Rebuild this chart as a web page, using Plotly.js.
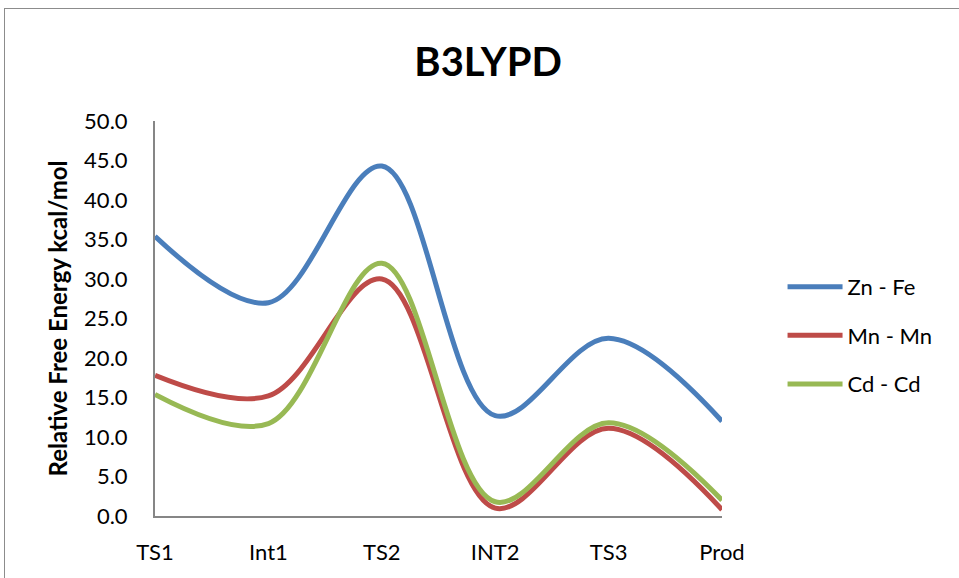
<!DOCTYPE html>
<html>
<head>
<meta charset="utf-8">
<script src="https://cdn.plot.ly/plotly-3.0.1.min.js"></script>
<style>
  html, body { margin: 0; padding: 0; background: #fff; }
  #chart { width: 959px; height: 578px; position: absolute; left: 0; top: 0; }
  #frame { position: absolute; left: 4px; top: 8px; width: 970px; height: 600px;
           border: 1.5px solid #8c8c8c; pointer-events: none; }
</style>
</head>
<body>
<div id="chart"></div>
<div id="frame"></div>
<script>
// Reaction path stations
const steps = ["TS1", "Int1", "TS2", "INT2", "TS3", "Prod"];

// Relative free energies (kcal/mol) for each metal pair
const znFe = [35.4, 27.0, 44.3, 12.7, 22.5, 12.0];
const mnMn = [17.8, 15.2, 30.0, 1.0, 11.1, 0.8];
const cdCd = [15.4, 11.7, 32.0, 1.8, 11.8, 2.0];

const FONT = "Lato, 'DejaVu Sans', sans-serif";

function series(name, y, color) {
  return {
    x: steps, y: y, name: name, type: "scatter", mode: "lines",
    legendgroup: name,
    line: { color: color, width: 5, shape: "spline", smoothing: 1 },
    hoverinfo: "skip"
  };
}

const data = [
  series("Zn - Fe", znFe, "#4a7ebb"),
  series("Mn - Mn", mnMn, "#be4b48"),
  series("Cd - Cd", cdCd, "#98b954")
];

const layout = {
  width: 959, height: 578,
  margin: { l: 155, r: 237, t: 121, b: 62 },
  paper_bgcolor: "#fff", plot_bgcolor: "#fff",
  font: { family: FONT, size: 22, color: "#000" },
  showlegend: true,
  title: {
    text: "<b>B3LYPD</b>",
    font: { family: FONT, size: 40, color: "#000" },
    x: 0.509, xanchor: "center", y: 0.893, yanchor: "middle"
  },
  xaxis: {
    type: "category", range: [0, 5],
    showgrid: false, zeroline: false,
    showline: true, linecolor: "#868686", linewidth: 2,
    ticks: "", ticklabelstandoff: 16,
    tickfont: { family: FONT, size: 22 }
  },
  yaxis: {
    range: [0, 50], dtick: 5, tick0: 0, tickformat: ".1f",
    showgrid: false, zeroline: false,
    showline: true, linecolor: "#868686", linewidth: 2,
    ticks: "", ticklabelstandoff: 21,
    tickfont: { family: FONT, size: 22 },
    title: { text: "<b>Relative Free Energy kcal/mol</b>", standoff: 10,
             font: { family: FONT, size: 24 } }
  },
  legend: {
    x: 0.816, xref: "container", y: 0.54, yref: "container",
    xanchor: "left", yanchor: "top",
    font: { family: FONT, size: 22 },
    itemwidth: 55, tracegroupgap: 17,
    bgcolor: "rgba(0,0,0,0)"
  }
};

Plotly.newPlot("chart", data, layout, { staticPlot: true, displayModeBar: false });
</script>
</body>
</html>
